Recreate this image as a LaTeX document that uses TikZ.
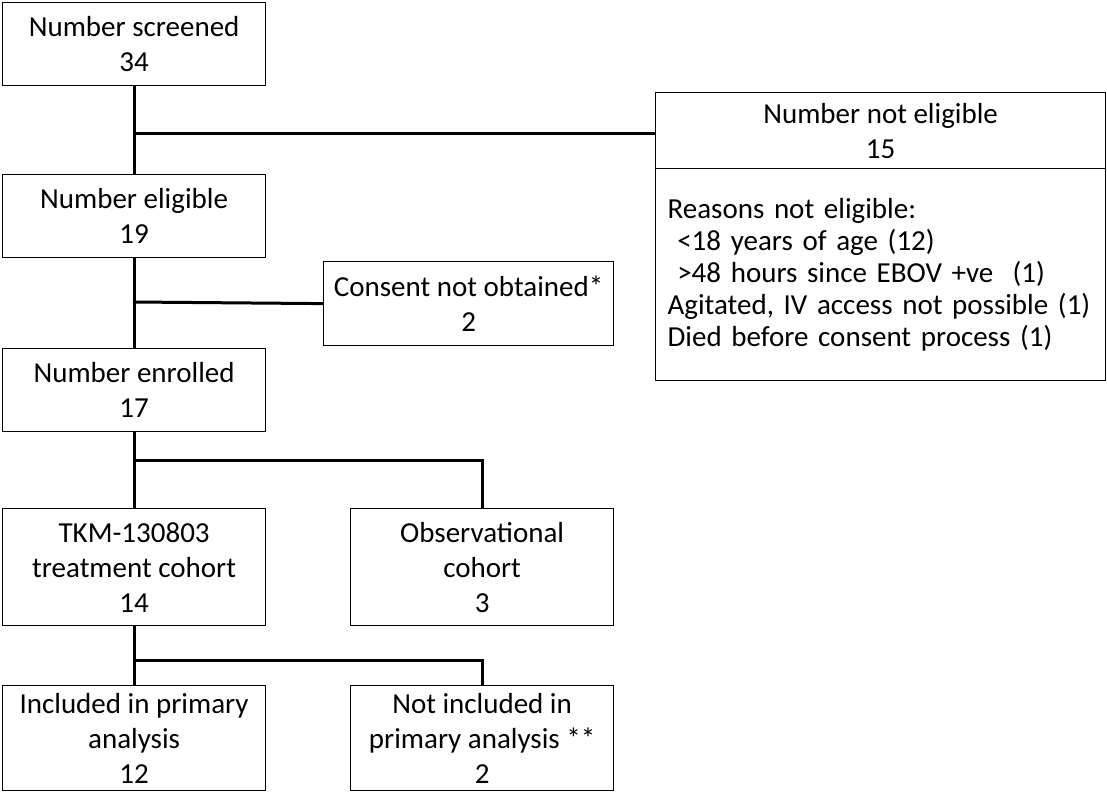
\documentclass[tikz,border=0pt]{standalone}
\usepackage{fontspec}
\setmainfont{Carlito}
\usetikzlibrary{positioning}

\begin{document}
\begin{tikzpicture}[x=1pt,y=-1pt]

\tikzset{box/.style={draw=black,line width=1.2pt,align=center,inner sep=0pt,anchor=north west,font=\fontsize{29}{35}\selectfont},
link/.style={line width=3pt}}

\useasboundingbox (0,0) rectangle (1107,800);

% Main column
\node (screened) [box,minimum width=263pt,minimum height=83pt] at (2,2) {Number screened\\34};
\node (eligible) [box,minimum width=263pt,minimum height=83pt] at (2,174) {Number eligible\\19};
\node (enrolled) [box,minimum width=263pt,minimum height=83pt] at (2,348) {Number enrolled\\17};
\node (tkm) [box,minimum width=263pt,minimum height=117pt] at (2,508) {TKM-130803\\treatment cohort\\14};
\node (incl) [box,minimum width=263pt,minimum height=105pt] at (2,685) {Included in primary\\analysis\\12};

% Side boxes
\node (noteligible) [box,minimum width=450pt,minimum height=76pt] at (655,92) {Number not eligible\\15};
\node (reasons) [box,minimum width=450pt,minimum height=212pt,align=left,text width=426pt,inner xsep=12pt,font=\fontsize{29}{32}\selectfont] at (655,168) {Reasons not eligible:\\\ {<}18 years of age (12)\\\ {>}48 hours since EBOV +ve\ \ (1)\\Agitated, IV access not possible (1)\\Died before consent process (1)};
\node (consent) [box,minimum width=290pt,minimum height=84pt] at (323,261) {Consent not obtained*\\2};
\node (observ) [box,minimum width=263pt,minimum height=117pt] at (350,508) {Observational\\cohort\\3};
\node (notincl) [box,minimum width=263pt,minimum height=105pt] at (350,685) {Not included in\\primary analysis **\\2};

% Connectors
\draw [link] (screened.south) -- (eligible.north);
\draw [link] (eligible.south) -- (enrolled.north);
\draw [link] (enrolled.south) -- (tkm.north);
\draw [link] (tkm.south) -- (incl.north);
\draw [link] (133,133) -- (noteligible.west |- 0,133);
\draw [link] (133,302) -- (consent.west);
\draw [link] (133,460) -| (observ.north);
\draw [link] (133,660) -| (notincl.north);

\end{tikzpicture}
\end{document}
